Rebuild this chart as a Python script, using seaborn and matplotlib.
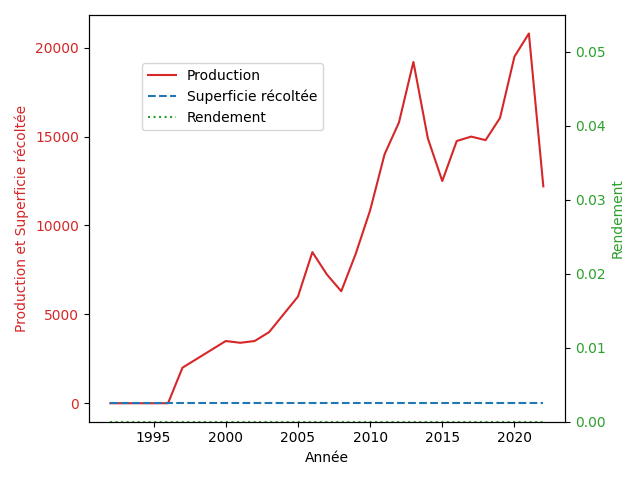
import matplotlib
matplotlib.use("Agg")
import matplotlib.pyplot as plt
import seaborn as sns
import pandas as pd

# data
annees = list(range(1992, 2023))
production = [0, 0, 0, 0, 0, 2000, 2500, 3000, 3500, 3400, 3500, 4000, 5000, 6000,
              8500, 7250, 6300, 8400, 10850, 14000, 15800, 19200, 14900, 12500,
              14750, 15000, 14800, 16050, 19500, 20800, 12200]
superficie = [0] * len(annees)
rendement = [0] * len(annees)

df = pd.DataFrame({"Année": annees, "Production": production,
                   "Superficie récoltée": superficie, "Rendement": rendement})

fig, ax1 = plt.subplots(figsize=(6.4, 4.8))

sns.lineplot(data=df, x="Année", y="Production", ax=ax1, color="tab:red", label="Production", legend=False)
sns.lineplot(data=df, x="Année", y="Superficie récoltée", ax=ax1, color="tab:blue",
             linestyle="--", label="Superficie récoltée", legend=False)
ax1.set_xlabel("Année")
ax1.set_ylabel("Production et Superficie récoltée", color="tab:red")
ax1.tick_params(axis="y", labelcolor="tab:red")

ax2 = ax1.twinx()
sns.lineplot(data=df, x="Année", y="Rendement", ax=ax2, color="tab:green",
             linestyle=":", label="Rendement", legend=False)
ax2.set_ylabel("Rendement", color="tab:green")
ax2.tick_params(axis="y", labelcolor="tab:green")
ax2.set_ylim(bottom=0)

# combined legend
h1, l1 = ax1.get_legend_handles_labels()
h2, l2 = ax2.get_legend_handles_labels()
ax1.legend(h1 + h2, l1 + l2, loc="upper left", bbox_to_anchor=(0.113, 0.882), borderaxespad=0)

fig.tight_layout()
fig.savefig("out.png", dpi=100)
